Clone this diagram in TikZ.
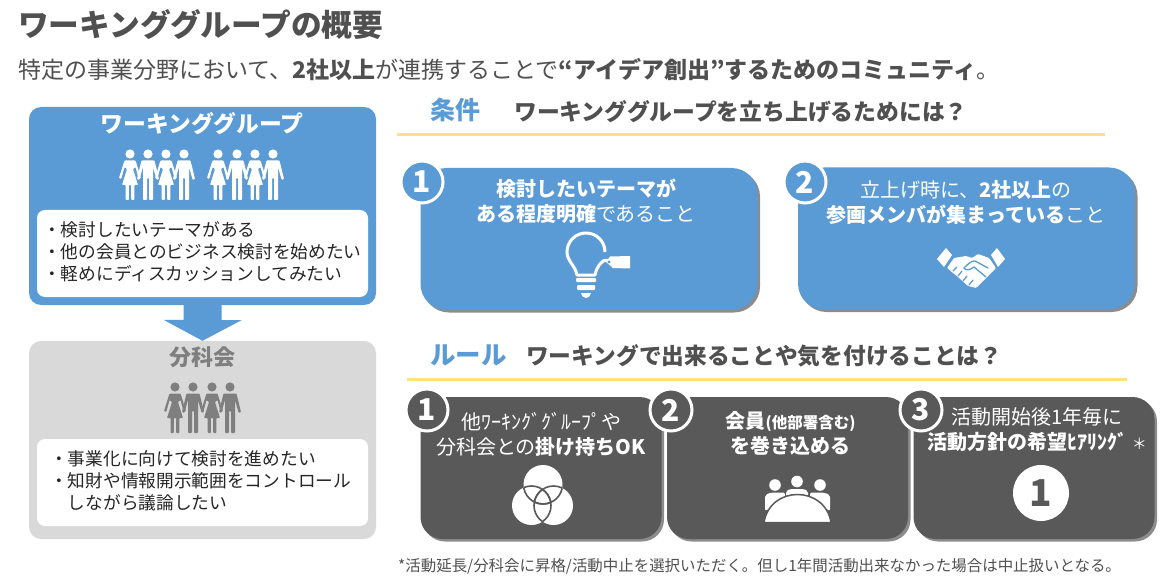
\documentclass[tikz,border=0pt]{standalone}
\usepackage{fontspec}
\setmainfont{Noto Sans CJK JP}
\usetikzlibrary{shadows}
\definecolor{mblue}{HTML}{5B9BD5}
\definecolor{mdark}{HTML}{595959}
\definecolor{mgrey}{HTML}{D9D9D9}
\definecolor{mfig}{HTML}{7F7F7F}
\definecolor{mtext}{HTML}{505050}
\definecolor{myellow}{HTML}{FFE082}
\newcommand{\fs}[1]{\fontsize{#1}{#1}\selectfont}
\tikzset{
  x=1pt,y=-1pt,
  panel/.style={rounded corners=12pt,inner sep=0pt,minimum width=347pt,minimum height=198pt},
  inner panel/.style={fill=white,rounded corners=8pt,inner sep=0pt,minimum width=331pt,minimum height=87pt},
  card/.style={rounded corners=26pt,inner sep=0pt,minimum height=142pt,minimum width=337pt,fill=mblue,
     drop shadow={shadow xshift=2.5pt,shadow yshift=-2.5pt,opacity=.45,fill=black}},
  darkcard/.style={card,fill=mdark,rounded corners=22pt,minimum width=241pt,minimum height=142pt},
  badge/.style={circle,draw=white,line width=3pt,minimum size=42pt,inner sep=0pt,text=white,font=\fs{30}\bfseries},
  cardtext/.style={align=center,text=white,inner sep=0pt,font=\fontsize{20}{25}\selectfont},
  lefttext/.style={anchor=north west,align=left,inner sep=0pt,text=black!85,font=\fontsize{17.7}{22}\selectfont},
  heading/.style={anchor=west,inner sep=0pt,text=mtext},
  rule/.style={draw=myellow,line width=3pt},
  pics/female/.style={code={
    \fill[#1] (0,0) circle[radius=4.6pt];
    \fill[#1,rounded corners=0.8pt] (-5.5,6.5)--(5.5,6.5)--(11,24)--(8.7,25)--(5.5,13)--(3,15)--(8,31)--(4.3,31)--(4.3,46)--(1.2,46)--(1.2,31)--(-1.2,31)--(-1.2,46)--(-4.3,46)--(-4.3,31)--(-8,31)--(-3,15)--(-5.5,13)--(-8.7,25)--(-11,24)--cycle;
  }},
  pics/male/.style={code={
    \fill[#1] (0,0) circle[radius=4.6pt];
    \fill[#1,rounded corners=0.8pt] (-6.5,6.5)--(6.5,6.5)--(11,25)--(8.7,26)--(5,13)--(5,46)--(1,46)--(1,24)--(-1,24)--(-1,46)--(-5,46)--(-5,13)--(-8.7,26)--(-11,25)--cycle;
  }},
}
\begin{document}
\begin{tikzpicture}
\useasboundingbox (0,0) rectangle (1162,588);
\fill[white] (0,0) rectangle (1162,588);

% header
\node[heading,font=\fs{30.7}\bfseries] (title) at (18,25) {ワーキンググループの概要};
\node[heading,font=\fs{23}] (sub) at (18,70) {特定の事業分野において、\textbf{2社以上}が連携することで\textbf{“アイデア創出”するためのコミュニティ}。};

% left panels
\node[panel,fill=mblue] (wg) at (202.5,206) {};
\node[panel,fill=mgrey] (bk) at (202.5,440) {};
\fill[mblue] ([xshift=-19pt]wg.south) -- ([xshift=19pt]wg.south) -- ++(0,15) -- ++(20,0) -- (bk.north) -- ++(-39,-21) -- ++(20,0) -- cycle;
\node[inner panel] (wgin) at (202.5,253.5) {};
\node[inner panel] (bkin) at (202.5,482.5) {};
\node[inner sep=0pt,text=white,font=\fs{22.8}\bfseries] (wgt) at (202,124) {ワーキンググループ};
\node[inner sep=0pt,text=mfig,font=\fs{22}\bfseries] (bkt) at (202.5,357) {分科会};
\foreach \px/\kind in {130/female,148/male,166/female,184/male,218/female,237/male,255/female,273/male}
  \pic at (\px,154) {\kind=white};
\foreach \px/\kind in {175/female,193/male,212/female,230/male}
  \pic at (\px,387) {\kind=mfig};
\node[lefttext] (wgl) at (43,221) {・検討したいテーマがある\\・他の会員とのビジネス検討を始めたい\\・軽めにディスカッションしてみたい};
\node[lefttext] (bkl) at (50,450) {・事業化に向けて検討を進めたい\\・知財や情報開示範囲をコントロール\\\hspace*{17.7pt}しながら議論したい};

% conditions
\node[heading,font=\fs{25}\bfseries,text=mblue] (jk) at (430,110) {条件};
\node[heading,font=\fs{22.8}\bfseries] (jkh) at (514,112) {ワーキンググループを立ち上げるためには？};
\coordinate (ra) at (397,135); \coordinate (rb) at (1105,135);
\draw[rule] (ra) -- (rb);

\node[card] (c1) at (589,239) {};
\node[card] (c2) at (966.5,238.5) {};
\node[badge,fill=mblue] (b1) at (422,182) {1};
\node[badge,fill=mblue] (b2) at (805,182) {2};
\node[cardtext] (t1) at (586,201.5) {\textbf{検討したいテーマが}\\\textbf{ある程度明確}であること};
\node[cardtext] (t2) at (966,202) {立上げ時に、\textbf{2社以上}の\\\textbf{参画メンバが集まっている}こと};

% bulb
\draw[white,line width=3pt,line join=round] (605,252) .. controls (605,241.5) and (596.5,233) .. (586,233) .. controls (575.5,233) and (567,241.5) .. (567,252) .. controls (567,261) and (575,265) .. (577,275) -- (595,275) .. controls (596,270) and (598,266) .. (601,263) .. controls (604,259) and (608,260) .. (613,262);
\fill[white] (610,256.5) -- (630,256) -- (630,268.5) -- (613,268) -- (606,262) -- cycle;
\fill[mblue] (609,262) circle[radius=1.6pt];
\fill[white,rounded corners=1pt] (576,278) rectangle (596,282);
\fill[white,rounded corners=1pt] (577,285) rectangle (595,290);
\fill[white] (581,293) -- (591,293) .. controls (591,296) and (588,298) .. (586,298) .. controls (584,298) and (581,296) .. (581,293) -- cycle;

% handshake
\fill[white] (946,248) -- (952,255) -- (944,267) -- (937,259) -- cycle;
\fill[white] (997,248) -- (1005,259) -- (998,267) -- (991,255) -- cycle;
\fill[white,rounded corners=1pt] (954,258) -- (966,256) -- (972,258) -- (978,254) -- (989,258) -- (996,268) -- (986,278) -- (976,288) -- (968,286) -- (958,277) -- (947,268) -- cycle;
\draw[mblue,line width=1.3pt,line cap=round] (988,268) -- (975,261) .. controls (972,260) and (967,265) .. (964,268) .. controls (966,271) and (970,270) .. (974,267) -- (986,277);
\draw[mblue,line width=1.2pt,line cap=round] (953,271) -- (957,267) (958,276) -- (962,271) (963,281) -- (967,276) (969,285) -- (973,280);

% rules
\node[heading,font=\fs{25.5}\bfseries,text=mblue] (rl) at (430,355) {ルール};
\node[heading,font=\fs{22.7}\bfseries] (rlh) at (526,356) {ワーキングで出来ることや気を付けることは？};
\coordinate (rc) at (407,379); \coordinate (rd) at (1127,379);
\draw[rule] (rc) -- (rd);

\node[darkcard] (d1) at (541,468) {};
\node[darkcard] (d2) at (787.5,468) {};
\node[darkcard] (d3) at (1034,468) {};
\node[badge,fill=mdark] (e1) at (427,410) {1};
\node[badge,fill=mdark] (e2) at (671,410) {2};
\node[badge,fill=mdark] (e3) at (921,410) {3};
\node[cardtext] (u1) at (541,434) {他ﾜｰｷﾝｸﾞｸﾞﾙｰﾌﾟや\\分科会との\textbf{掛け持ちOK}};
\node[cardtext] (u2) at (790.5,433) {\textbf{\fs{20}会員\fs{15.5}(他部署含む)}\\\textbf{を巻き込める}};
\node[cardtext] (u3) at (1037,430) {活動開始後1年毎に\\\textbf{活動方針の希望ﾋｱﾘﾝｸﾞ} {\fs{15}＊}};

% venn
\begin{scope}
  \fill[white] (543,484.5) circle[radius=19.5pt] (531.5,505.5) circle[radius=19.5pt] (553.5,505.5) circle[radius=19.5pt];
  \begin{scope}
    \clip (543,484.5) circle[radius=19.5pt];
    \draw[mdark,line width=1.6pt] (531.5,505.5) circle[radius=19.5pt] (553.5,505.5) circle[radius=19.5pt];
  \end{scope}
  \begin{scope}
    \clip (531.5,505.5) circle[radius=19.5pt];
    \draw[mdark,line width=1.6pt] (543,484.5) circle[radius=19.5pt] (553.5,505.5) circle[radius=19.5pt];
  \end{scope}
  \begin{scope}
    \clip (553.5,505.5) circle[radius=19.5pt];
    \draw[mdark,line width=1.6pt] (543,484.5) circle[radius=19.5pt] (531.5,505.5) circle[radius=19.5pt];
  \end{scope}
\end{scope}

% meeting
\fill[white] (775,485) circle[radius=5.8pt] (797,481.5) circle[radius=5.8pt] (820,485) circle[radius=5.8pt];
\fill[white,rounded corners=2pt] (765,511) -- (765,495) -- (771,492.5) -- (785,492.5) -- (785,500) -- cycle;
\fill[white,rounded corners=2pt] (830,511) -- (830,495) -- (824,492.5) -- (810,492.5) -- (810,500) -- cycle;
\fill[white,rounded corners=2pt] (786,498) -- (786,491) -- (790,489) -- (804,489) -- (808,491) -- (808,498) -- cycle;
\draw[mdark,line width=1.5pt,fill=white] (764,522.5) .. controls (767,504) and (782,494.5) .. (797.5,494.5) .. controls (813,494.5) and (828,504) .. (831,522.5) -- cycle;

% one
\node[circle,fill=white,minimum size=56pt,inner sep=0pt,text=mdark,font=\fs{37}\bfseries] (one) at (1041,493) {1};

% footer
\node[heading,font=\fs{15.45},text=mtext] (fn) at (398,566) {*活動延長/分科会に昇格/活動中止を選択いただく。但し1年間活動出来なかった場合は中止扱いとなる。};
\end{tikzpicture}
\end{document}
